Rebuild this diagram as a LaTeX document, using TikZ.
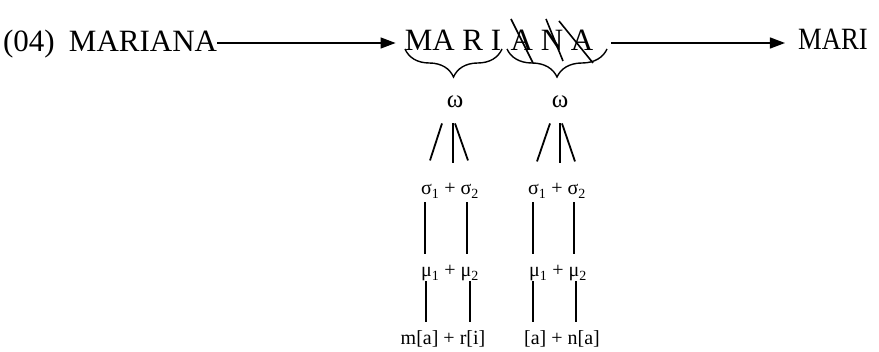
\documentclass[tikz,border=0pt]{standalone}
\usepackage{fontspec}
\setmainfont{Liberation Serif}
\usetikzlibrary{arrows.meta,decorations.pathreplacing}
\begin{document}
\begin{tikzpicture}[x=1pt, y=-1pt,
    big/.style={font=\fontsize{31}{36}\selectfont, inner sep=0pt, anchor=base},
    small/.style={font=\fontsize{20}{24}\selectfont, inner sep=0pt, anchor=base},
    stroke/.style={line width=1.8pt},
    morph/.style={line width=1.3pt, -{Triangle[length=15pt,width=11pt]}},
    cut/.style={line width=1.6pt},
    grp/.style={decorate, decoration={brace, mirror, amplitude=28pt}, line width=1.4pt}]
  \useasboundingbox (0,0) rectangle (879,352);

  % Forms on the top row
  \node[big] (num) at (29,52) {(04)};
  \node[big] (base) at (143,52) {MARIANA};
  \node[big] (stemL) at (453,51) {MA R I};
  \node[big] (stemR) at (552,51) {A N A};
  \node[big] (out) at (833,50) {\scalebox{0.86}[1]{MARI}};

  % Derivation arrows
  \draw[morph] (base.east |- 0,43) -- ([xshift=-9pt]stemL.west |- 0,43);
  \draw[morph] (611,43) -- ([xshift=-13pt]out.west |- 0,43);

  % Truncated part
  \draw[cut] (511,19) -- (533,63);
  \draw[cut] (546,19) -- (563,61);
  \draw[cut] (559,21) -- (593,63);

  % Braces
  \draw[grp] (405,49) -- (502,49);
  \draw[grp] (507,49) -- (607,49);

  % Left column
  \node[small, font=\fontsize{25}{28}\selectfont] (omL) at (455,108) {ω};
  \node[small] (sgL) at (450,195) {σ\textsubscript{1} + σ\textsubscript{2}};
  \node[small] (muL) at (450,277) {μ\textsubscript{1} + μ\textsubscript{2}};
  \node[small] (segL) at (443,345) {m[a] + r[i]};
  \draw[stroke] ([shift={(-13,15)}]omL.south) -- ([shift={(-25,52)}]omL.south);
  \draw[stroke] ([shift={(-2,15)}]omL.south) -- ([shift={(-2,55)}]omL.south);
  \draw[stroke] ([shift={(0,15)}]omL.south) -- ([shift={(13,52)}]omL.south);
  \draw[stroke] ([shift={(-25,4)}]sgL.south) -- ([shift={(-25,56)}]sgL.south);
  \draw[stroke] ([shift={(17,4)}]sgL.south) -- ([shift={(17,56)}]sgL.south);
  \draw[stroke] ([shift={(-24,0)}]muL.south) -- ([shift={(-24,41)}]muL.south);
  \draw[stroke] ([shift={(20,0)}]muL.south) -- ([shift={(20,41)}]muL.south);

  % Right column
  \node[small, font=\fontsize{25}{28}\selectfont] (omR) at (560,108) {ω};
  \node[small] (sgR) at (557,195) {σ\textsubscript{1} + σ\textsubscript{2}};
  \node[small] (muR) at (558,277) {μ\textsubscript{1} + μ\textsubscript{2}};
  \node[small] (segR) at (562,345) {[a] + n[a]};
  \draw[stroke] ([shift={(-10,15)}]omR.south) -- ([shift={(-23,53)}]omR.south);
  \draw[stroke] ([shift={(0,15)}]omR.south) -- ([shift={(0,55)}]omR.south);
  \draw[stroke] ([shift={(2,15)}]omR.south) -- ([shift={(15,53)}]omR.south);
  \draw[stroke] ([shift={(-24,4)}]sgR.south) -- ([shift={(-24,56)}]sgR.south);
  \draw[stroke] ([shift={(17,4)}]sgR.south) -- ([shift={(17,56)}]sgR.south);
  \draw[stroke] ([shift={(-25,0)}]muR.south) -- ([shift={(-25,41)}]muR.south);
  \draw[stroke] ([shift={(18,0)}]muR.south) -- ([shift={(18,41)}]muR.south);
\end{tikzpicture}
\end{document}
